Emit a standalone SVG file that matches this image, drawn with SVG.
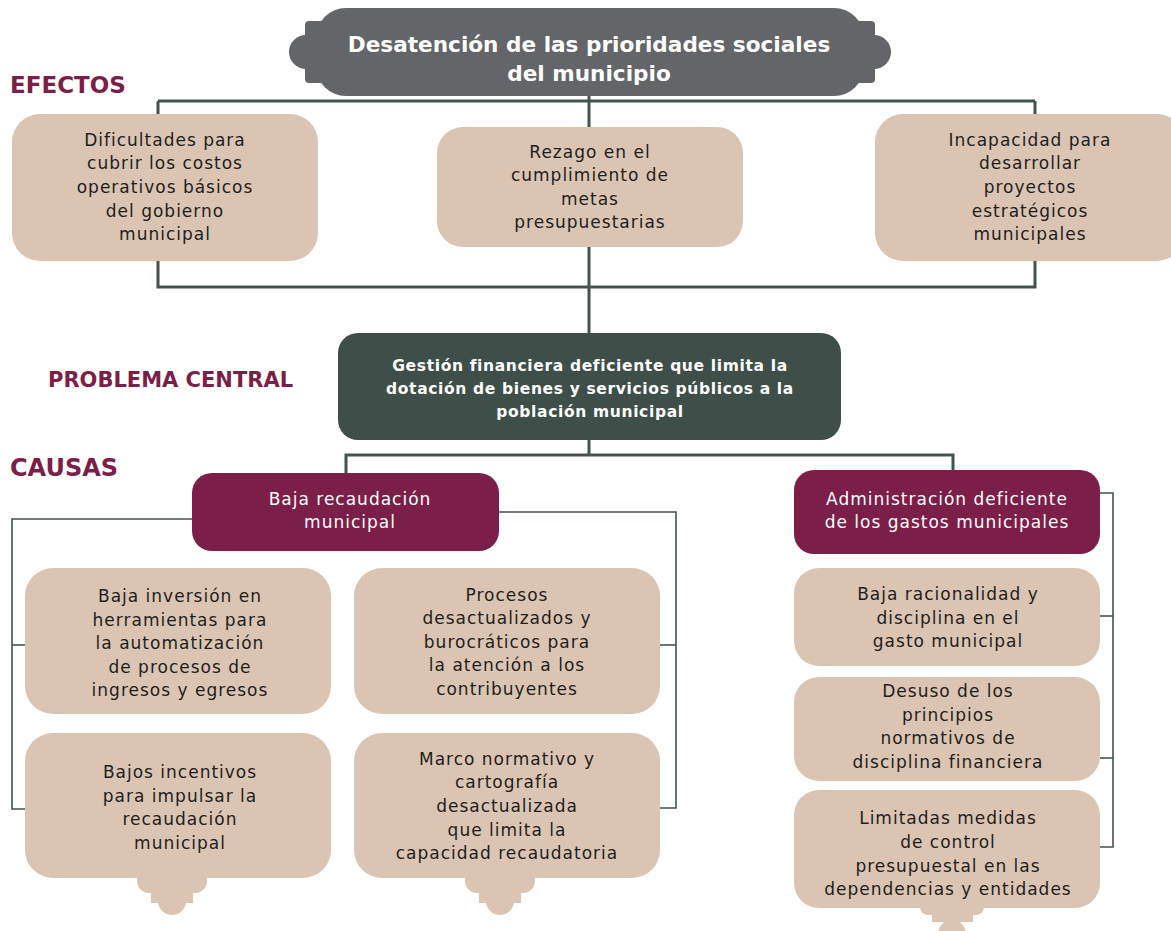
<svg xmlns="http://www.w3.org/2000/svg" width="1171" height="931" viewBox="0 0 1171 931">
<style>
.tan{fill:#dbc5b2}
.mar{fill:#7b1e48}
.t{font-family:"DejaVu Sans",sans-serif;font-size:17px;letter-spacing:1px;fill:#1e1e1e;text-anchor:middle}
.tw{font-family:"DejaVu Sans",sans-serif;font-size:17px;letter-spacing:1px;fill:#ffffff;text-anchor:middle}
.tb{font-family:"DejaVu Sans",sans-serif;font-weight:bold;fill:#ffffff;text-anchor:middle}
.lab{font-family:"DejaVu Sans",sans-serif;font-weight:bold;fill:#7b1e48}
.c{fill:none;stroke:#44534e;stroke-width:3}
.c2{fill:none;stroke:#44534e;stroke-width:1.6}
</style>
<rect width="1171" height="931" fill="#ffffff"/>

<g id="connectors">
<polyline class="c" points="158,101 1035,101"/>
<polyline class="c" points="158,101 158,287 1035,287 1035,101"/>
<polyline class="c" points="589,95 589,333"/>
<polyline class="c" points="589,440 589,455"/>
<polyline class="c" points="346,474 346,455 953,455 953,470"/>
<polyline class="c2" points="192,519 12,519 12,809 25,809"/>
<polyline class="c2" points="12,645 25,645"/>
<polyline class="c2" points="499,512 676,512 676,808 660,808"/>
<polyline class="c2" points="676,645 660,645"/>
<polyline class="c2" points="1100,493 1113,493 1113,847 1100,847"/>
<polyline class="c2" points="1113,616 1100,616"/>
<polyline class="c2" points="1113,758 1100,758"/>
</g>

<g id="banner">
<g fill="#646568">
<rect x="316" y="8" width="548" height="88" rx="30"/>
<rect x="305" y="21" width="570" height="62" rx="4"/>
<circle cx="306" cy="52" r="17"/>
<circle cx="874" cy="52" r="17"/>
</g>
<text class="tb" font-size="21.6" x="589" y="52">Desatención de las prioridades sociales</text>
<text class="tb" font-size="21.6" x="589" y="81">del municipio</text>
</g>

<g id="lbl-efectos"><text class="lab" font-size="23" x="10" y="93">EFECTOS</text></g>
<g id="lbl-problema"><text class="lab" font-size="21" x="48" y="387">PROBLEMA CENTRAL</text></g>
<g id="lbl-causas"><text class="lab" font-size="24" x="10" y="476">CAUSAS</text></g>

<g id="efecto1">
<rect class="tan" x="12" y="114" width="306" height="147" rx="28"/>
<text class="t" x="165" y="146">Dificultades para</text>
<text class="t" x="165" y="169">cubrir los costos</text>
<text class="t" x="165" y="193">operativos básicos</text>
<text class="t" x="165" y="217">del gobierno</text>
<text class="t" x="165" y="240">municipal</text>
</g>
<g id="efecto2">
<rect class="tan" x="437" y="127" width="306" height="120" rx="26"/>
<text class="t" x="590" y="158">Rezago en el</text>
<text class="t" x="590" y="181">cumplimiento de</text>
<text class="t" x="590" y="205">metas</text>
<text class="t" x="590" y="228">presupuestarias</text>
</g>
<g id="efecto3">
<rect class="tan" x="875" y="114" width="310" height="147" rx="28"/>
<text class="t" x="1030" y="146">Incapacidad para</text>
<text class="t" x="1030" y="169">desarrollar</text>
<text class="t" x="1030" y="193">proyectos</text>
<text class="t" x="1030" y="217">estratégicos</text>
<text class="t" x="1030" y="240">municipales</text>
</g>

<g id="problema">
<rect x="338" y="333" width="503" height="107" rx="20" fill="#3e4f4a"/>
<text class="tb" font-size="15.5" letter-spacing="0.65" x="590" y="371">Gestión financiera deficiente que limita la</text>
<text class="tb" font-size="15.5" letter-spacing="0.65" x="590" y="394">dotación de bienes y servicios públicos a la</text>
<text class="tb" font-size="15.5" letter-spacing="0.65" x="590" y="417">población municipal</text>
</g>

<g id="causa1">
<rect class="mar" x="192" y="473" width="307" height="78" rx="20"/>
<text class="tw" x="350" y="505">Baja recaudación</text>
<text class="tw" x="350" y="528">municipal</text>
</g>
<g id="causa2">
<rect class="mar" x="794" y="470" width="306" height="84" rx="20"/>
<text class="tw" x="947" y="505">Administración deficiente</text>
<text class="tw" x="947" y="528">de los gastos municipales</text>
</g>

<g id="sub1">
<rect class="tan" x="25" y="568" width="306" height="146" rx="28"/>
<text class="t" x="180" y="602">Baja inversión en</text>
<text class="t" x="180" y="626">herramientas para</text>
<text class="t" x="180" y="649">la automatización</text>
<text class="t" x="180" y="673">de procesos de</text>
<text class="t" x="180" y="696">ingresos y egresos</text>
</g>
<g id="sub2">
<rect class="tan" x="354" y="568" width="306" height="146" rx="28"/>
<text class="t" x="507" y="601">Procesos</text>
<text class="t" x="507" y="624">desactualizados y</text>
<text class="t" x="507" y="648">burocráticos para</text>
<text class="t" x="507" y="671">la atención a los</text>
<text class="t" x="507" y="695">contribuyentes</text>
</g>
<g id="sub3">
<rect class="tan" x="25" y="733" width="306" height="145" rx="28"/>
<g class="tan"><rect x="137" y="868" width="70" height="25" rx="12"/><rect x="137" y="868" width="70" height="12"/><rect x="151" y="870" width="42" height="33"/><circle cx="172" cy="901" r="14"/></g>
<text class="t" x="180" y="778">Bajos incentivos</text>
<text class="t" x="180" y="802">para impulsar la</text>
<text class="t" x="180" y="825">recaudación</text>
<text class="t" x="180" y="849">municipal</text>
</g>
<g id="sub4">
<rect class="tan" x="354" y="733" width="306" height="145" rx="28"/>
<g class="tan"><rect x="465" y="868" width="70" height="25" rx="12"/><rect x="465" y="868" width="70" height="12"/><rect x="479" y="870" width="42" height="33"/><circle cx="500" cy="901" r="14"/></g>
<text class="t" x="507" y="765">Marco normativo y</text>
<text class="t" x="507" y="788">cartografía</text>
<text class="t" x="507" y="812">desactualizada</text>
<text class="t" x="507" y="836">que limita la</text>
<text class="t" x="507" y="859">capacidad recaudatoria</text>
</g>
<g id="sub5">
<rect class="tan" x="794" y="568" width="306" height="98" rx="25"/>
<text class="t" x="948" y="600">Baja racionalidad y</text>
<text class="t" x="948" y="624">disciplina en el</text>
<text class="t" x="948" y="647">gasto municipal</text>
</g>
<g id="sub6">
<rect class="tan" x="794" y="677" width="306" height="104" rx="25"/>
<text class="t" x="948" y="697">Desuso de los</text>
<text class="t" x="948" y="721">principios</text>
<text class="t" x="948" y="744">normativos de</text>
<text class="t" x="948" y="768">disciplina financiera</text>
</g>
<g id="sub7">
<rect class="tan" x="794" y="790" width="306" height="118" rx="25"/>
<g class="tan"><rect x="920" y="898" width="64" height="17" rx="8"/><rect x="920" y="898" width="64" height="8"/><rect x="932" y="900" width="41" height="22"/><circle cx="952" cy="934" r="14"/></g>
<text class="t" x="948" y="824">Limitadas medidas</text>
<text class="t" x="948" y="848">de control</text>
<text class="t" x="948" y="872">presupuestal en las</text>
<text class="t" x="948" y="895">dependencias y entidades</text>
</g>
</svg>
